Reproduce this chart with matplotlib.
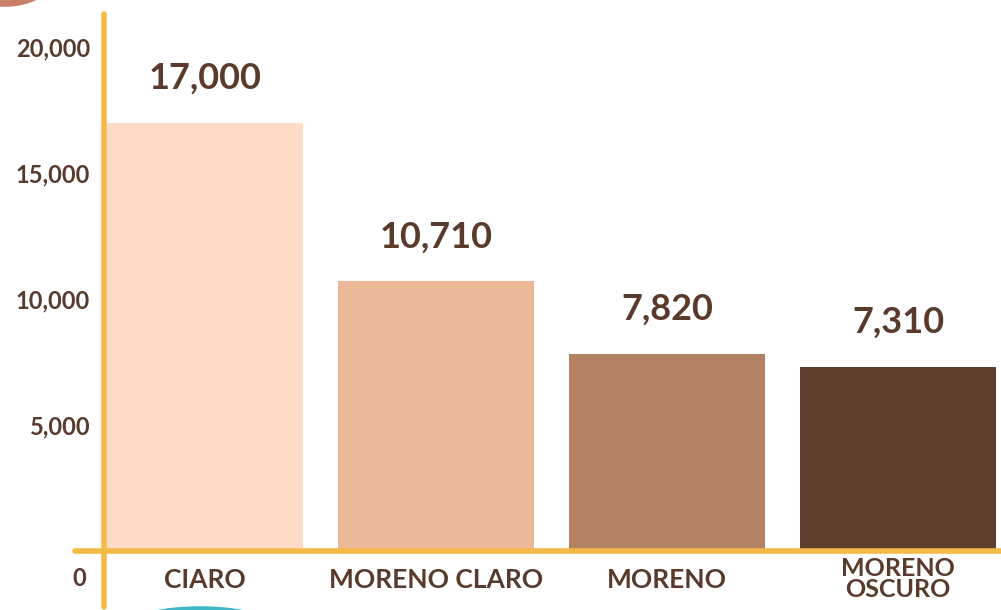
import matplotlib.pyplot as plt
from matplotlib.patches import Ellipse
from matplotlib.transforms import ScaledTranslation

categories = ['CIARO', 'MORENO CLARO', 'MORENO', 'MORENO\nOSCURO']
values = [17000, 10710, 7820, 7310]
value_labels = ['17,000', '10,710', '7,820', '7,310']
yticks = [5000, 10000, 15000, 20000]
ytick_labels = ['5,000', '10,000', '15,000', '20,000']

colors = ['#FDDBC6', '#EBB899', '#B38163', '#5E3F2D']
text_color = '#5A3A2B'
axis_color = '#F5BA45'

plt.rcParams['font.family'] = ['Lato', 'DejaVu Sans']

fig = plt.figure(figsize=(10.01, 6.10), dpi=100)
ax = fig.add_axes([104 / 1001, 59 / 610, 897 / 1001, 537 / 610])

x = range(len(categories))
bars = ax.bar(x, values, width=0.85, color=colors, zorder=2)

ax.set_xlim(-0.437, 3.446)
ax.set_ylim(0, 21310)

for b, lab in zip(bars, value_labels):
    ax.annotate(lab, (b.get_x() + b.get_width() / 2, b.get_height()),
                xytext=(0, 20), textcoords='offset points', ha='center', va='bottom',
                fontsize=26, fontweight='bold', color=text_color)

ax.set_yticks(yticks)
ax.set_yticklabels(ytick_labels, fontsize=17, fontweight='bold', color=text_color)
ax.set_xticks(list(x))
ax.set_xticklabels(categories, fontsize=19, fontweight='bold', color=text_color,
                   linespacing=0.9)
ax.tick_params(axis='both', length=0)
ax.tick_params(axis='y', pad=10)
ax.tick_params(axis='x', pad=12)

# the two-line label sits a little higher so it stays inside the figure
last = ax.get_xticklabels()[-1]
last.set_fontsize(18)
last.set_transform(last.get_transform() + ScaledTranslation(0, 8 / 72, fig.dpi_scale_trans))

for s in ax.spines.values():
    s.set_visible(False)

# yellow hand-drawn style axes
ax.plot([0, 0], [-0.105, 1.0], transform=ax.transAxes, color=axis_color,
        lw=4, solid_capstyle='round', clip_on=False, zorder=3)
ax.plot([-0.032, 1.0], [0, 0], transform=ax.transAxes, color=axis_color,
        lw=4, solid_capstyle='round', clip_on=False, zorder=3)
ax.text(-0.02, -0.03, '0', transform=ax.transAxes, ha='right', va='top',
        fontsize=17, fontweight='bold', color=text_color)

# decorative arcs at the edges
fig.patches.append(Ellipse((0.005, 1.03), 0.09, 0.08, transform=fig.transFigure,
                           color='#C98068', zorder=0))
fig.patches.append(Ellipse((0.2, -0.02), 0.13, 0.05, transform=fig.transFigure,
                           color='#3FB6C6', zorder=0))

fig.savefig('out.png', dpi=100, facecolor='white')
